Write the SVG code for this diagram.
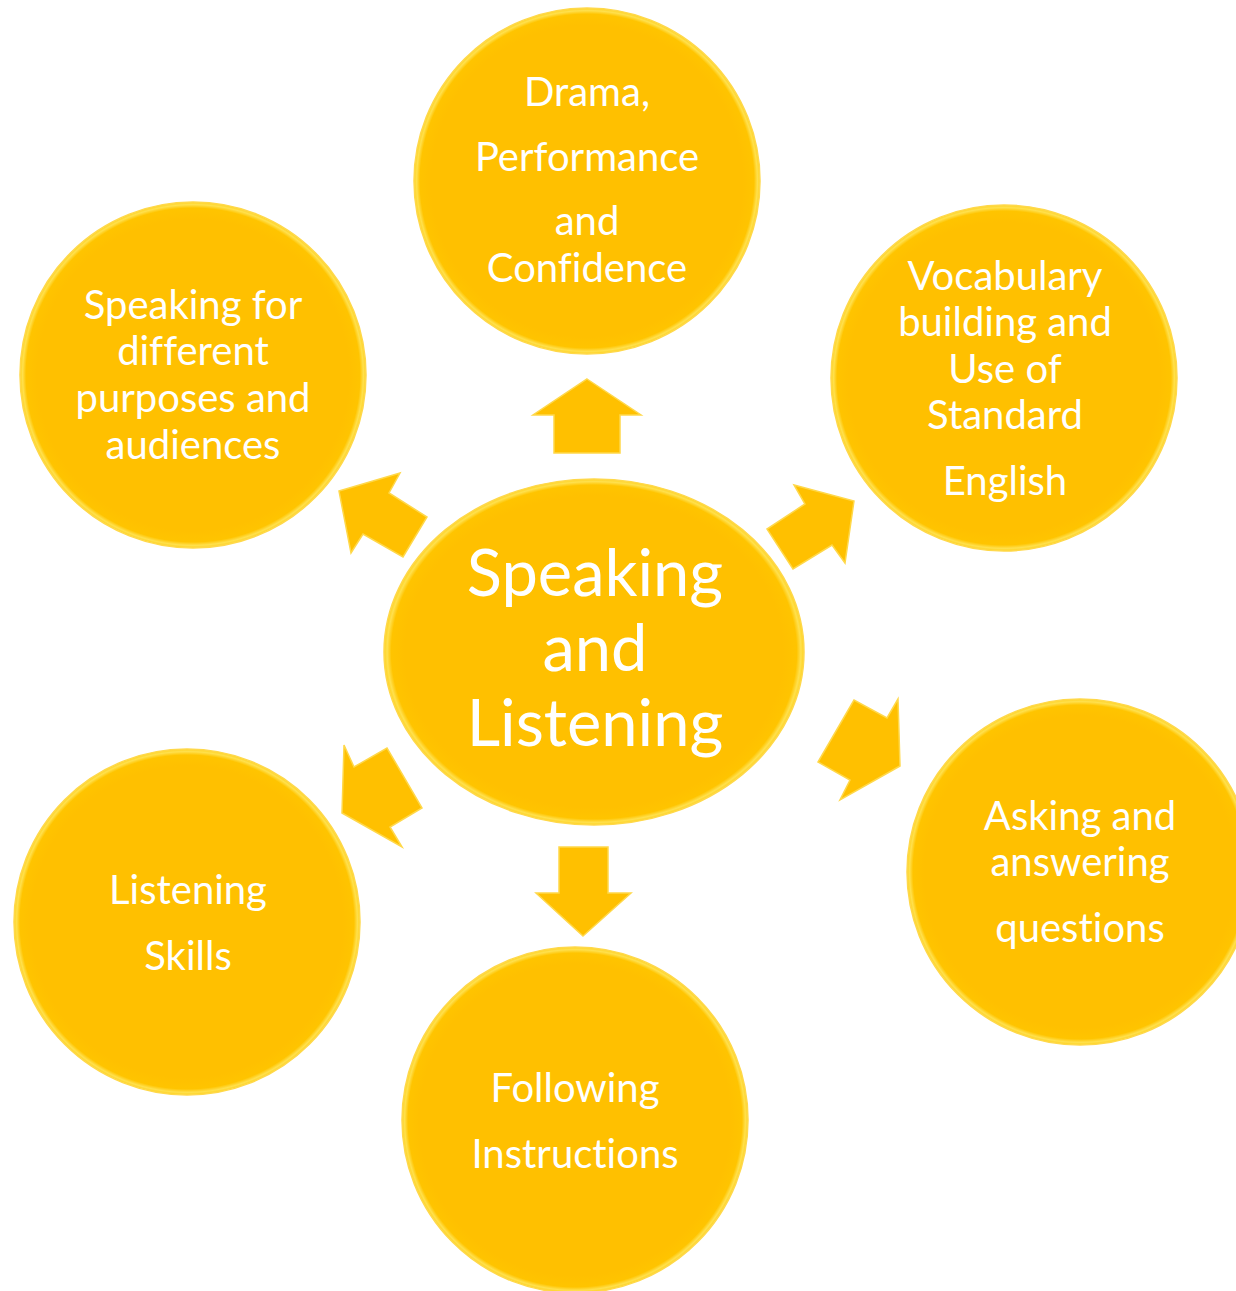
<svg xmlns="http://www.w3.org/2000/svg" width="1236" height="1291" viewBox="0 0 1236 1291">
<defs>
<radialGradient id="rim" cx="50%" cy="50%" r="50%">
<stop offset="0.9" stop-color="#FFC000"/>
<stop offset="0.965" stop-color="#FFC400"/>
<stop offset="0.985" stop-color="#FFE04D"/>
<stop offset="1" stop-color="#FFD21F"/>
</radialGradient>
<style>
.node{fill:url(#rim);stroke:#FFD84A;stroke-width:1.5}
.arr{fill:#FFC000;stroke:#FFD84A;stroke-width:1.5;stroke-linejoin:miter}
.t{font-family:Lato,"Liberation Sans",sans-serif;fill:#FFFFFF;text-anchor:middle;font-size:40px;font-variant-ligatures:none;font-feature-settings:"liga" 0,"dlig" 0}
.big{font-size:65px}
</style>
</defs>
<rect width="1236" height="1291" fill="#FFFFFF"/>
<g id="connectors">
<polygon class="arr" points="587,379 641,415 620,415 620,453 554,453 554,415 533,415"/>
<polygon class="arr" points="339,491 400,473 389,493 427,517 403,557 363,534 351,553"/>
<polygon class="arr" points="854,501 845,563 832,545 793,569 767,529 805,504 794,485"/>
<polygon class="arr" points="900,766 840,800 850,780 818,762 854,700 887,718 898,699"/>
<polygon class="arr" points="342,813 344,745 354,767 387,748 422,808 390,827 402,847"/>
<polygon class="arr" points="583,936 631,893 608,893 608,847 559,847 559,893 536,893"/>
</g>
<g id="center">
<ellipse class="node" cx="594" cy="652" rx="210" ry="173"/>
<text class="t big" x="595" y="596">Speaking</text>
<text class="t big" x="595" y="671">and</text>
<text class="t big" x="595" y="746">Listening</text>
</g>
<g id="drama">
<circle class="node" cx="587" cy="181" r="173"/>
<text class="t" x="587" y="106">Drama,</text>
<text class="t" x="587" y="171">Performance</text>
<text class="t" x="587" y="235">and</text>
<text class="t" x="587" y="282">Confidence</text>
</g>
<g id="speaking-purposes">
<circle class="node" cx="193" cy="375" r="173"/>
<text class="t" x="193" y="319">Speaking for</text>
<text class="t" x="193" y="365">different</text>
<text class="t" x="193" y="412">purposes and</text>
<text class="t" x="193" y="459">audiences</text>
</g>
<g id="vocabulary">
<circle class="node" cx="1004" cy="378" r="173"/>
<text class="t" x="1005" y="290">Vocabulary</text>
<text class="t" x="1005" y="336">building and</text>
<text class="t" x="1005" y="383">Use of</text>
<text class="t" x="1005" y="429">Standard</text>
<text class="t" x="1005" y="495">English</text>
</g>
<g id="asking">
<circle class="node" cx="1080" cy="872" r="173"/>
<text class="t" x="1080" y="830">Asking and</text>
<text class="t" x="1080" y="876">answering</text>
<text class="t" x="1080" y="942">questions</text>
</g>
<g id="listening-skills">
<circle class="node" cx="187" cy="922" r="173"/>
<text class="t" x="188" y="904">Listening</text>
<text class="t" x="188" y="970">Skills</text>
</g>
<g id="following">
<circle class="node" cx="575" cy="1120" r="173"/>
<text class="t" x="575" y="1102">Following</text>
<text class="t" x="575" y="1168">Instructions</text>
</g>
</svg>
